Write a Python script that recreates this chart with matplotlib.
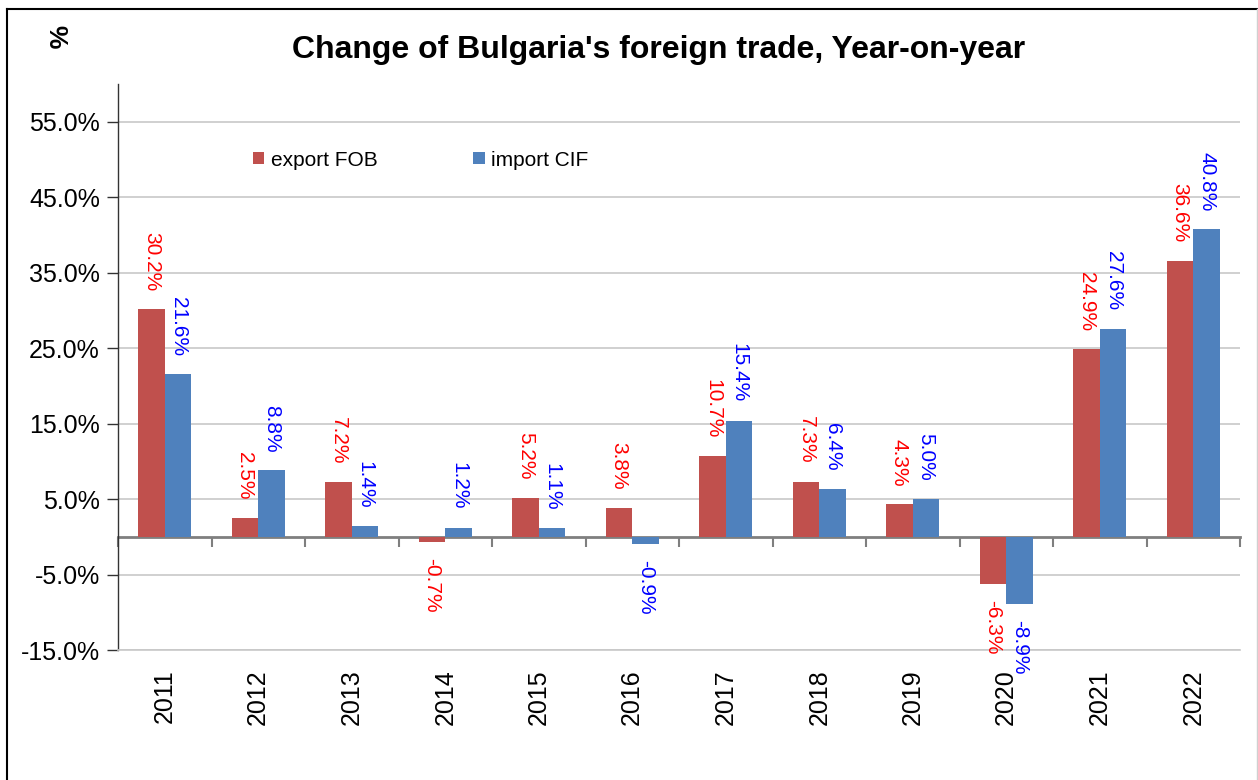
import numpy as np
import matplotlib
matplotlib.use('Agg')
import matplotlib.pyplot as plt
from matplotlib.lines import Line2D
from matplotlib.ticker import FuncFormatter

plt.rcParams['font.family'] = ['Liberation Sans', 'DejaVu Sans']

# 数据
years = ['2011', '2012', '2013', '2014', '2015', '2016',
         '2017', '2018', '2019', '2020', '2021', '2022']
export_fob = [30.2, 2.5, 7.2, -0.7, 5.2, 3.8, 10.7, 7.3, 4.3, -6.3, 24.9, 36.6]
import_cif = [21.6, 8.8, 1.4, 1.2, 1.1, -0.9, 15.4, 6.4, 5.0, -8.9, 27.6, 40.8]
y_ticks = [-15, -5, 5, 15, 25, 35, 45, 55]


def main():
    W, H = 1258, 780
    fig = plt.figure(figsize=(W / 100, H / 100), dpi=100)
    ax = fig.add_axes([118 / W, 1 - 650 / H, (1240 - 118) / W, (650 - 84) / H])

    x = np.arange(len(years))
    w = 0.2857
    red = '#C0504D'
    blue = '#4F81BD'
    b1 = ax.bar(x - w / 2, export_fob, w, color=red, label='export FOB', zorder=3)
    b2 = ax.bar(x + w / 2, import_cif, w, color=blue, label='import CIF', zorder=3)

    # 数据标签
    for bars, vals, col in ((b1, export_fob, 'red'), (b2, import_cif, 'blue')):
        for rect, v in zip(bars, vals):
            cx = rect.get_x() + rect.get_width() / 2
            if v >= 0:
                ax.annotate(f'{v:.1f}%', (cx, v), xytext=(0, 18), textcoords='offset pixels',
                            rotation=-90, ha='center', va='bottom', color=col, fontsize=15)
            else:
                ax.annotate(f'{v:.1f}%', (cx, v), xytext=(0, -16), textcoords='offset pixels',
                            rotation=-90, ha='center', va='top', color=col, fontsize=15)

    ax.set_xlim(-0.5, len(years) - 0.5)
    ax.set_ylim(-15, 60)
    ax.set_yticks(y_ticks)
    ax.yaxis.set_major_formatter(FuncFormatter(lambda v, p: f'{v:.1f}%'))
    ax.grid(axis='y', color='#c8c8c8', lw=1.2, zorder=0)
    ax.tick_params(axis='y', labelsize=18, length=8, width=1, color='#333333', pad=5)

    ax.set_xticks(x)
    ax.set_xticklabels(years, rotation=90)
    ax.tick_params(axis='x', length=0, labelsize=18, pad=14)

    for s in ('top', 'right'):
        ax.spines[s].set_visible(False)
    ax.spines['bottom'].set_color('#c8c8c8')
    ax.spines['bottom'].set_linewidth(1.2)
    ax.spines['left'].set_color('#333333')
    ax.spines['left'].set_linewidth(1)

    # 零线和分类刻度
    sec = ax.secondary_xaxis(15 / 75)
    sec.set_xticks(np.arange(len(years) + 1) - 0.5)
    sec.set_xticklabels([])
    sec.xaxis.set_ticks_position('bottom')
    sec.tick_params(axis='x', direction='out', length=7, width=1.5, color='#7f7f7f')
    for s in sec.spines.values():
        s.set_visible(False)
    sec.spines['bottom'].set_visible(True)
    sec.spines['bottom'].set_color('#7f7f7f')
    sec.spines['bottom'].set_linewidth(2)

    # 标题
    fig.text(659 / W, 1 - 50 / H, "Change of Bulgaria's foreign trade, Year-on-year",
             ha='center', va='center', fontsize=23, fontweight='bold')
    fig.text(55 / W, 1 - 37 / H, '%', ha='center', va='center', rotation=-90,
             fontsize=19, fontweight='bold')

    ax.legend(loc='center left', bbox_to_anchor=(253 / W, 1 - 160 / H),
              bbox_transform=fig.transFigure, ncol=2, frameon=False, fontsize=15,
              handlelength=0.55, handleheight=0.55, handletextpad=0.3,
              columnspacing=4.6, borderpad=0, borderaxespad=0)

    # 外框
    fig.add_artist(Line2D([7 / W, 7 / W], [0, 1 - 9 / H], color='black', lw=1.5,
                          transform=fig.transFigure))
    fig.add_artist(Line2D([7 / W, 1], [1 - 9 / H, 1 - 9 / H], color='black', lw=1.5,
                          transform=fig.transFigure))
    fig.add_artist(Line2D([1257 / W, 1257 / W], [0, 1 - 9 / H], color='#d0d0d0', lw=1,
                          transform=fig.transFigure))

    fig.savefig('out.png', dpi=100)


if __name__ == '__main__':
    main()
